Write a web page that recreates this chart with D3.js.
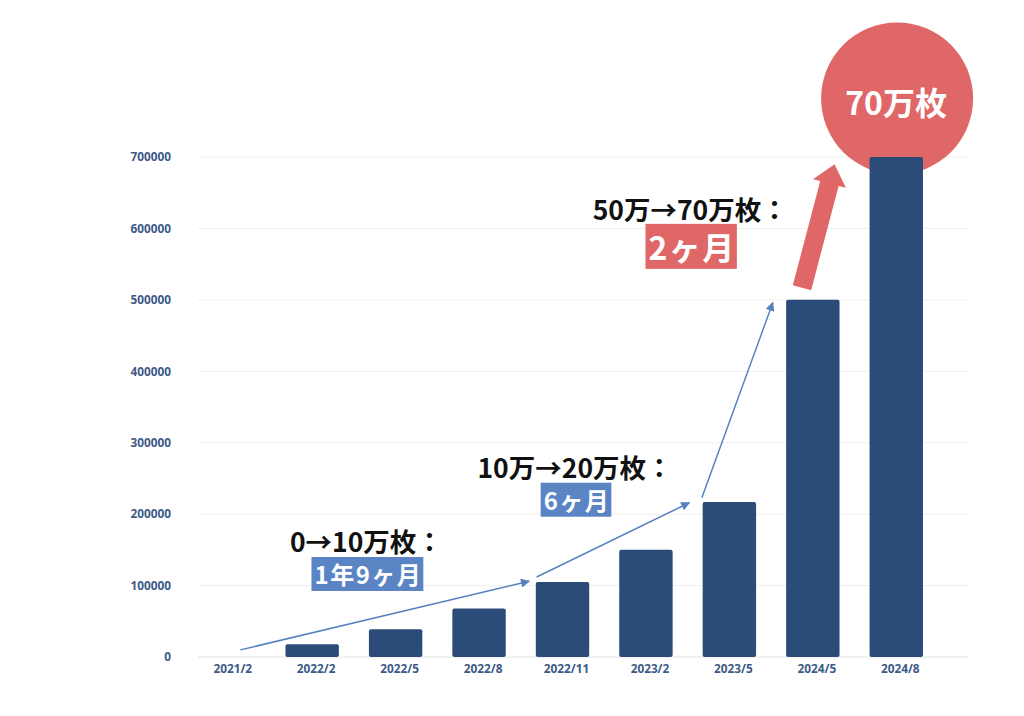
<!DOCTYPE html>
<html><head><meta charset="utf-8">
<script src="https://cdn.jsdelivr.net/npm/d3@7"></script>
<style>
html,body{margin:0;padding:0;background:#fff;}
svg{display:block;font-family:"Noto Sans CJK JP","Noto Sans",sans-serif;}
</style></head>
<body>
<svg id="c" width="1024" height="716"></svg>
<script>
// ---- data ----
const categories = ["2021/2","2022/2","2022/5","2022/8","2022/11","2023/2","2023/5","2024/5","2024/8"];
const values = [0, 18000, 39000, 68000, 105000, 150000, 217000, 500000, 700000];
const yTicks = [0,100000,200000,300000,400000,500000,600000,700000];
// arrows: [startIndex, startValue, endIndex, endValue]
const blueArrows = [
  [0.14, 10000, 3.6, 106000],
  [3.69, 112000, 5.52, 216000],
  [5.67, 223000, 6.52, 496000]
];
const redArrow = [6.87, 517000, 7.26, 690000];
const bubble = {index: 8.01, value: 782000, text: "70万枚"};
const notes = [
  {title:"0→10万枚：", label:"1年9ヶ月", index:1.65, value:147000, color:"#5a84c3", size:24},
  {title:"10万→20万枚：", label:"6ヶ月", index:4.15, value:251000, color:"#5a84c3", size:24},
  {title:"50万→70万枚：", label:"2ヶ月", index:5.53, value:612000, color:"#e06767", size:32}
];

// ---- chart ----
const svg = d3.select("#c");
const x = d3.scaleBand().domain(categories).range([187, 938]).paddingInner(0.36).paddingOuter(0.18);
const y = d3.scaleLinear().domain([0, 700000]).range([657, 157]);
const xi = d3.scaleLinear().domain([0, categories.length-1])
  .range([x(categories[0]) + x.bandwidth()/2, x(categories[categories.length-1]) + x.bandwidth()/2]);

const axisColor = "#3d5a88";
const barColor = "#2b4b78";
const red = "#e06767";

// gridlines
svg.append("g").selectAll("line").data(yTicks).join("line")
  .attr("x1", 198).attr("x2", 968)
  .attr("y1", d => y(d)).attr("y2", d => y(d))
  .attr("stroke", (d) => d === 0 ? "#e4e4e4" : "#eeeeee").attr("stroke-width", 1);

// y axis
const yAxis = svg.append("g").attr("transform", "translate(171,0)")
  .call(d3.axisLeft(y).tickValues(yTicks).tickSize(0).tickPadding(0).tickFormat(d3.format("d")));
yAxis.select(".domain").remove();
yAxis.selectAll("text").attr("fill", axisColor).attr("font-size", 11.8).attr("font-weight", 700)
  .attr("font-family", "'Noto Sans','Noto Sans CJK JP',sans-serif");

// x axis
const xAxis = svg.append("g").attr("transform", "translate(4,663)")
  .call(d3.axisBottom(x).tickSize(0).tickPadding(0));
xAxis.select(".domain").remove();
xAxis.selectAll("text").attr("fill", axisColor).attr("font-size", 11.8).attr("font-weight", 700)
  .attr("dy", "0.85em")
  .attr("font-family", "'Noto Sans','Noto Sans CJK JP',sans-serif");

// bubble (behind bars)
svg.append("circle")
  .attr("cx", xi(bubble.index)).attr("cy", y(bubble.value)).attr("r", 76)
  .attr("fill", red);

// bars
svg.append("g").selectAll("rect").data(values).join("rect")
  .attr("x", (d,i) => x(categories[i]))
  .attr("y", d => y(d))
  .attr("width", x.bandwidth())
  .attr("height", d => y(0) - y(d))
  .attr("rx", 2)
  .attr("fill", barColor);

svg.append("text")
  .attr("x", xi(bubble.index) - 1).attr("y", y(bubble.value) + 17)
  .attr("text-anchor", "middle").attr("fill", "#fff")
  .attr("font-size", 32).attr("font-weight", 700)
  .text(bubble.text);

// blue arrows
const defs = svg.append("defs");
defs.append("marker").attr("id", "ah").attr("viewBox", "0 0 10 10")
  .attr("refX", 9).attr("refY", 5).attr("markerWidth", 13).attr("markerHeight", 9)
  .attr("markerUnits", "userSpaceOnUse").attr("orient", "auto")
  .append("path").attr("d", "M0,0 L10,5 L0,10 Z").attr("fill", "#5580bf");

svg.append("g").selectAll("line").data(blueArrows).join("line")
  .attr("x1", d => xi(d[0])).attr("y1", d => y(d[1]))
  .attr("x2", d => xi(d[2])).attr("y2", d => y(d[3]))
  .attr("stroke", "#5580bf").attr("stroke-width", 1.5)
  .attr("marker-end", "url(#ah)");

// red thick arrow
(function(){
  const x0 = xi(redArrow[0]), y0 = y(redArrow[1]);
  const x1 = xi(redArrow[2]), y1 = y(redArrow[3]);
  const dx = x1 - x0, dy = y1 - y0, L = Math.hypot(dx, dy);
  const ux = dx/L, uy = dy/L, nx = -uy, ny = ux;
  const sw = 9.5, hw = 17, hl = 20;
  const bx = x1 - ux*hl, by = y1 - uy*hl;
  const pts = [
    [x0 + nx*sw, y0 + ny*sw], [bx + nx*sw, by + ny*sw], [bx + nx*hw, by + ny*hw],
    [x1, y1],
    [bx - nx*hw, by - ny*hw], [bx - nx*sw, by - ny*sw], [x0 - nx*sw, y0 - ny*sw]
  ];
  svg.append("polygon").attr("points", pts.map(p => p.join(",")).join(" ")).attr("fill", red);
})();

// notes
notes.forEach(n => {
  const cx = xi(n.index), cy = y(n.value);
  const g = svg.append("g");
  g.append("text").attr("x", cx).attr("y", cy)
    .attr("text-anchor", "middle").attr("fill", "#111")
    .attr("font-size", 26.5).attr("font-weight", 700)
    .text(n.title);
  const lab = g.append("text").attr("x", cx + 2).attr("y", cy + n.size + 8)
    .attr("text-anchor", "middle").attr("fill", "#fff")
    .attr("font-size", n.size).attr("font-weight", 700)
    .attr("letter-spacing", 1.5)
    .text(n.label);
  const bb = lab.node().getBBox();
  g.insert("rect", "text:nth-child(2)")
    .attr("x", bb.x - 3).attr("y", bb.y + 1)
    .attr("width", bb.width + 4).attr("height", bb.height - 1)
    .attr("fill", n.color);
});
</script>
</body></html>
